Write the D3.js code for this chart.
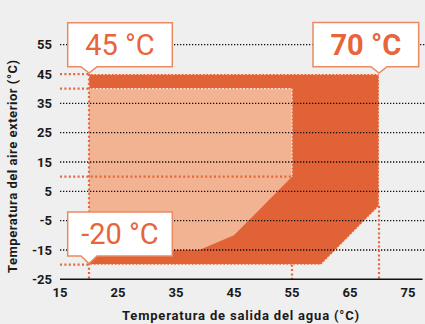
<!DOCTYPE html>
<html><head><meta charset="utf-8">
<script src="https://cdn.jsdelivr.net/npm/d3@7"></script>
<style>
html,body{margin:0;padding:0;background:#efefef;}
svg{display:block;font-family:Roboto,"DejaVu Sans",sans-serif;}
</style></head>
<body>
<svg id="c" width="425" height="324"></svg>
<script>
// ---- data ----
const xTicks = [15, 25, 35, 45, 55, 65, 75];
const yTicks = [-25, -15, -5, 5, 15, 25, 35, 45, 55];
const gridValues = [-15, -5, 5, 15, 25, 35, 55];
const region70X = [20, 70, 70, 60, 20];
const region70Y = [45, 45, 0, -20, -20];
const region45X = [20, 55, 55, 45, 39, 20];
const region45Y = [40, 40, 10, -10, -15, -15];
const refHorizontal = [45, 40, -20];       // short orange guides at left
const refTen = 10;                          // guide to x=55
const calloutLabels = ["45 °C", "70 °C", "-20 °C"];
const calloutX = [20, 70, 20];
const calloutY = [45, 45, -20];
const xTitle = "Temperatura de salida del agua (°C)";
const yTitle = "Temperatura del aire exterior (°C)";

const DARK = "#e16236", LIGHT = "#f2b393", ORANGE = "#e8643a", BORDER = "#ea8a63";

const svg = d3.select("#c");
const x = d3.scaleLinear().domain([15, 75]).range([60, 408]);
const y = d3.scaleLinear().domain([-25, 55]).range([279.3, 44.7]);

// regions
const poly = (xs, ys) => d3.line()(xs.map((v, i) => [x(v), y(ys[i])])) + "Z";
svg.append("path").attr("d", poly(region70X, region70Y)).attr("fill", DARK)
  .attr("stroke", "#fbe3d8").attr("stroke-width", 1.2).attr("stroke-dasharray", "2,1.5");
svg.append("path").attr("d", poly(region45X, region45Y)).attr("fill", LIGHT);
// light region border (top & right only)
svg.append("path").attr("d", d3.line()([[x(20), y(40)], [x(55), y(40)], [x(55), y(10)]]))
  .attr("fill", "none").attr("stroke", "#fbe3d8").attr("stroke-width", 1.2).attr("stroke-dasharray", "2,1.5");

// gridlines
svg.append("g").selectAll("line").data(gridValues).join("line")
  .attr("x1", x(15)).attr("x2", 425).attr("y1", d => y(d)).attr("y2", d => y(d))
  .attr("stroke", "#111").attr("stroke-width", 1.3).attr("stroke-dasharray", "1.3,1.7");

// orange guides
const og = svg.append("g").attr("stroke", ORANGE).attr("stroke-width", 2.2)
  .attr("stroke-dasharray", "2,2.4").attr("fill", "none");
refHorizontal.forEach(v => og.append("line").attr("x1", x(15)).attr("x2", x(20)).attr("y1", y(v)).attr("y2", y(v)));
og.append("line").attr("x1", x(15)).attr("x2", x(55)).attr("y1", y(refTen)).attr("y2", y(refTen));
og.append("line").attr("x1", x(20)).attr("x2", x(20)).attr("y1", y(45)).attr("y2", y(-25));
og.append("line").attr("x1", x(55)).attr("x2", x(55)).attr("y1", y(-20)).attr("y2", y(-25));
og.append("line").attr("x1", x(70)).attr("x2", x(70)).attr("y1", y(0)).attr("y2", y(-25));

// x axis line
svg.append("line").attr("x1", x(15)).attr("x2", x(77.5)).attr("y1", y(-25)).attr("y2", y(-25))
  .attr("stroke", "#111").attr("stroke-width", 1.6);

// tick labels
svg.append("g").selectAll("text").data(yTicks).join("text")
  .attr("x", 52).attr("y", d => y(d)).attr("dy", "0.35em").attr("text-anchor", "end")
  .attr("font-size", 13).attr("font-weight", 700).attr("fill", "#1a1a1a").text(d => d);
svg.append("g").selectAll("text").data(xTicks).join("text")
  .attr("x", d => x(d)).attr("y", 296.5).attr("text-anchor", "middle")
  .attr("font-size", 13).attr("font-weight", 700).attr("fill", "#1a1a1a").text(d => d);

// axis titles
svg.append("text").attr("x", 240.5).attr("y", 320).attr("text-anchor", "middle")
  .attr("font-size", 13).attr("font-weight", 700).attr("fill", "#1a1a1a")
  .attr("textLength", 237).attr("lengthAdjust", "spacing").text(xTitle);
svg.append("text").attr("transform", "translate(17,166.5) rotate(-90)").attr("text-anchor", "middle")
  .attr("font-size", 13).attr("font-weight", 700).attr("fill", "#1a1a1a")
  .attr("textLength", 213).attr("lengthAdjust", "spacing").text(yTitle);

// callouts
const boxes = [
  {x0: 67.7, x1: 172.3, y0: 22.7, y1: 66.7, bold: false},
  {x0: 313, x1: 418.7, y0: 22.5, y1: 66.7, bold: true},
  {x0: 67.7, x1: 172.3, y0: 212, y1: 256, bold: false}
];
boxes.forEach((b, i) => {
  const tx = x(calloutX[i]), ty = y(calloutY[i]) - 1;
  const p = d3.path();
  p.moveTo(b.x0, b.y0); p.lineTo(b.x1, b.y0); p.lineTo(b.x1, b.y1);
  p.lineTo(Math.min(tx + 8, b.x1), b.y1); p.lineTo(tx, ty); p.lineTo(Math.max(tx - 8, b.x0), b.y1);
  p.lineTo(b.x0, b.y1); p.closePath();
  svg.append("path").attr("d", p.toString()).attr("fill", "#fff").attr("stroke", BORDER).attr("stroke-width", 1.5);
  svg.append("text").attr("x", (b.x0 + b.x1) / 2).attr("y", (b.y0 + b.y1) / 2).attr("dy", "0.36em")
    .attr("text-anchor", "middle").attr("font-size", 29).attr("font-weight", b.bold ? 700 : 400)
    .attr("fill", ORANGE).text(calloutLabels[i]);
});
</script>
</body></html>
